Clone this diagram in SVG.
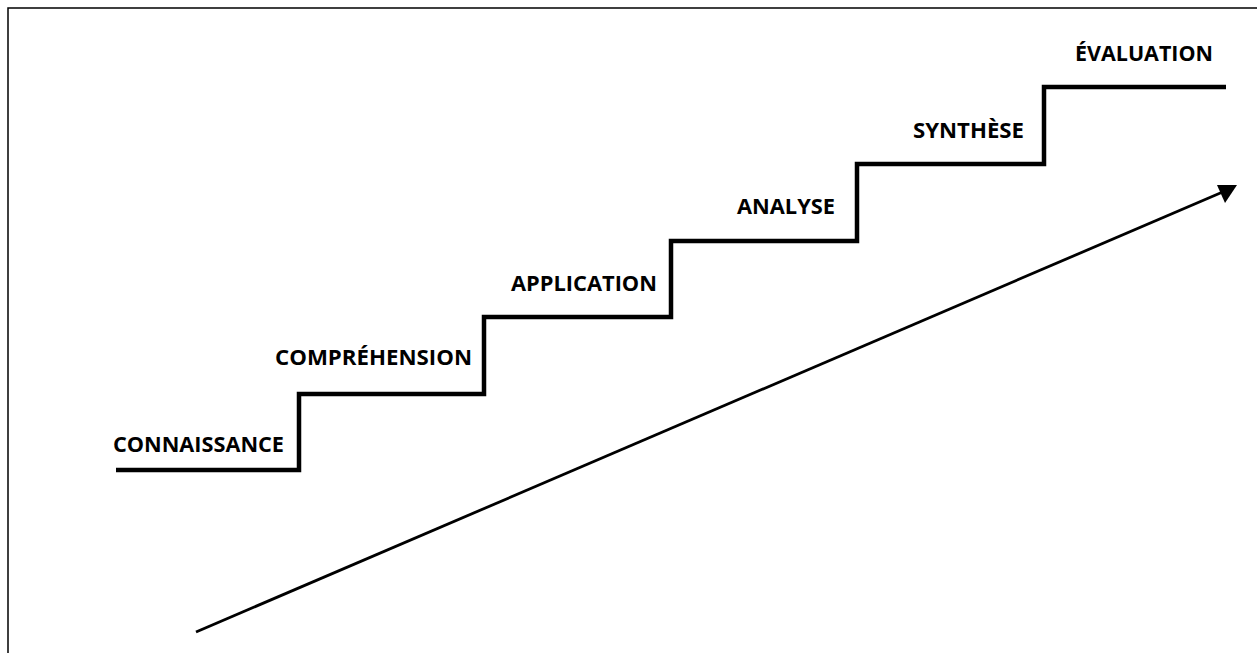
<svg xmlns="http://www.w3.org/2000/svg" width="1257" height="653" viewBox="0 0 1257 653">
<style>
.lbl{font-family:"Open Sans","Liberation Sans",sans-serif;font-weight:bold;font-size:21px;fill:#000}
.stair{fill:none;stroke:#000;stroke-width:4.5;stroke-linejoin:miter}
.arrow{fill:none;stroke:#000;stroke-width:2.8}
</style>
<rect x="0" y="0" width="1257" height="653" fill="#fff"/>
<rect x="8" y="8" width="1260" height="660" fill="none" stroke="#000" stroke-width="1.5"/>
<g id="connectors">
<path class="stair" d="M116,470 H299 V394 H484 V317 H671 V241 H857 V164 H1044 V87 H1226"/>
<line class="arrow" x1="196" y1="632" x2="1225" y2="191"/>
<path d="M1237,185 L1217,185 L1225,203 Z" fill="#000"/>
</g>
<g id="n1"><text class="lbl" x="113" y="452" textLength="171" lengthAdjust="spacingAndGlyphs">CONNAISSANCE</text></g>
<g id="n2"><text class="lbl" x="275" y="365" textLength="197" lengthAdjust="spacingAndGlyphs">COMPRÉHENSION</text></g>
<g id="n3"><text class="lbl" x="511" y="291" textLength="146" lengthAdjust="spacingAndGlyphs">APPLICATION</text></g>
<g id="n4"><text class="lbl" x="737" y="214" textLength="98" lengthAdjust="spacingAndGlyphs">ANALYSE</text></g>
<g id="n5"><text class="lbl" x="913" y="138" textLength="111" lengthAdjust="spacingAndGlyphs">SYNTHÈSE</text></g>
<g id="n6"><text class="lbl" x="1075" y="61" textLength="138" lengthAdjust="spacingAndGlyphs">ÉVALUATION</text></g>
</svg>
